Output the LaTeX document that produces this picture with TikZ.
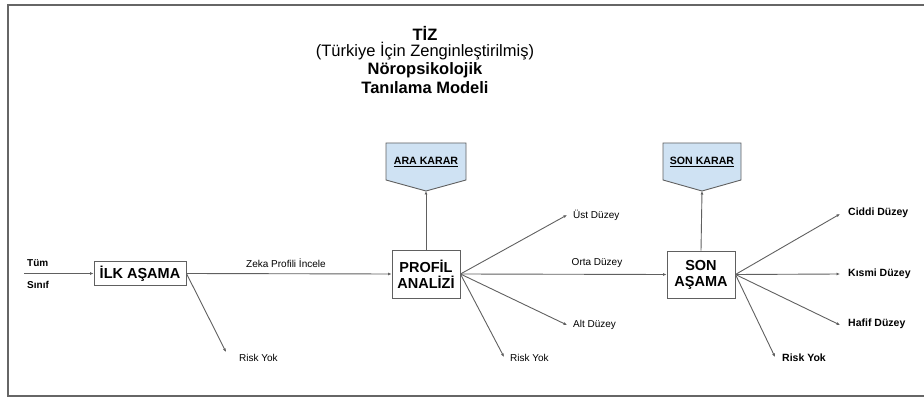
\documentclass[tikz,border=0pt]{standalone}
\usepackage{fontspec}
\setmainfont{Liberation Sans}
\usetikzlibrary{arrows.meta}
\definecolor{linegray}{HTML}{606060}
\definecolor{framegray}{HTML}{666666}
\definecolor{decblue}{HTML}{CFE2F3}
\tikzset{
  stagebox/.style={draw=linegray, line width=0.9pt, fill=white, inner sep=0pt, font=\fontsize{14.5}{16}\selectfont\bfseries, align=center},
  conn/.style={draw=linegray, line width=0.9pt, -{Latex[length=3.5pt,width=3pt]}},
  lbl/.style={font=\fontsize{10}{12}\selectfont, inner sep=0pt},
  blbl/.style={font=\fontsize{10.5}{12}\selectfont\bfseries, inner sep=0pt},
  decision/.style={draw=linegray, line width=0.9pt, fill=decblue},
  declbl/.style={font=\fontsize{10.6}{12}\selectfont\bfseries, inner sep=0pt},
  title/.style={font=\fontsize{16.5}{18}\selectfont, align=center, inner sep=0pt}
}
\begin{document}
\begin{tikzpicture}[x=1pt, y=-1pt]
  \useasboundingbox (0,0) rectangle (924,398);
  % outer frame (open to the right)
  \begin{scope}
    \clip (0,0) rectangle (924,398);
    \draw[framegray, line width=1.8pt] (8,5) rectangle (940,396);
  \end{scope}

  % heading
  \node[title] (t1) at (425,33) {\bfseries TİZ};
  \node[title] (t2) at (425,51) {(Türkiye İçin Zenginleştirilmiş)};
  \node[title] (t3) at (425,70) {\bfseries Nöropsikolojik};
  \node[title] (t4) at (425,88) {\bfseries Tanılama Modeli};

  % stages
  \node[stagebox, minimum width=92pt, minimum height=24pt] (ilk) at (140,273.5) {İLK AŞAMA};
  \node[stagebox, minimum width=68pt, minimum height=48pt] (profil) at (426,274) {PROFİL\\ANALİZİ};
  \node[stagebox, minimum width=68pt, minimum height=47pt] (son) at (701,274.5) {SON\\AŞAMA};

  % decision pentagons
  \draw[decision] (386,143) -- (466,143) -- (466,180) -- (426,191) -- (386,180) -- cycle;
  \coordinate (araTip) at (426,191);
  \node[declbl] (ara) at (426,162) {\underline{ARA KARAR}};
  \draw[decision] (663,143) -- (741,143) -- (741,180) -- (702,191) -- (663,180) -- cycle;
  \coordinate (sonTip) at (702,191);
  \node[declbl] (sonk) at (702,162) {\underline{SON KARAR}};

  % input
  \coordinate (start) at (24,273.5);
  \node[font=\fontsize{10}{12}\selectfont\bfseries, anchor=west, inner sep=0pt] (tum) at (27,263) {Tüm};
  \node[font=\fontsize{10}{12}\selectfont\bfseries, anchor=west, inner sep=0pt] (sinif) at (27,285) {Sınıf};
  \draw[conn] (start) -- (ilk.west);

  % first stage outputs
  \draw[conn] (ilk.east) -- (profil.west);
  \node[lbl, anchor=west] (zeka) at (246,263) {Zeka Profili İncele};
  \coordinate (r1) at (226,352);
  \draw[conn] (ilk.east) -- (r1);
  \node[lbl, anchor=west] (risk1) at (239,358) {Risk Yok};

  % profile analysis outputs
  \draw[conn] (profil.north) -- (araTip);
  \coordinate (ust) at (567,215);
  \coordinate (alt) at (567,325);
  \coordinate (r2) at (504,357);
  \draw[conn] (profil.east) -- (ust);
  \draw[conn] (profil.east) -- (alt);
  \draw[conn] (profil.east) -- (r2);
  \draw[conn] (profil.east) -- (son.west);
  \node[lbl, anchor=west] (ustl) at (573,215) {Üst Düzey};
  \node[lbl, anchor=west] (altl) at (573,325) {Alt Düzey};
  \node[lbl, anchor=west] (risk2) at (510,358) {Risk Yok};
  \node[lbl] (orta) at (597,263) {Orta Düzey};

  % final stage outputs
  \draw[conn] (son.north) -- (sonTip);
  \coordinate (ciddi) at (840,214);
  \coordinate (kismi) at (840,274);
  \coordinate (hafif) at (840,325);
  \coordinate (r3) at (775,357);
  \draw[conn] (son.east) -- (ciddi);
  \draw[conn] (son.east) -- (kismi);
  \draw[conn] (son.east) -- (hafif);
  \draw[conn] (son.east) -- (r3);
  \node[blbl, anchor=west] (ciddil) at (848,213) {Ciddi Düzey};
  \node[blbl, anchor=west] (kismil) at (848,274) {Kısmi Düzey};
  \node[blbl, anchor=west] (hafifl) at (848,324) {Hafif Düzey};
  \node[blbl, anchor=west] (risk3) at (782,358) {Risk Yok};
\end{tikzpicture}
\end{document}
